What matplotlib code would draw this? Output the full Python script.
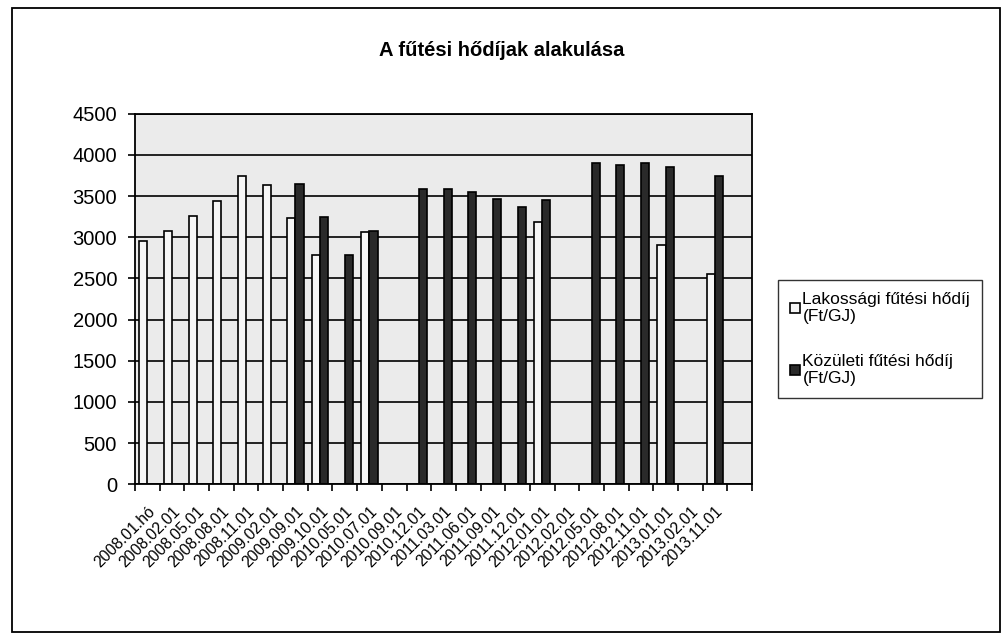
# fűtési hődíjak - recreated bar chart
import numpy as np
import matplotlib.pyplot as plt
from matplotlib.patches import Rectangle

plt.rcParams['font.family'] = ['Liberation Sans', 'DejaVu Sans']

# category labels (last slot has no label in the original)
labels = ['2008.01.hó', '2008.02.01', '2008.05.01', '2008.08.01', '2008.11.01',
          '2009.02.01', '2009.09.01', '2009.10.01', '2010.05.01', '2010.07.01',
          '2010.09.01', '2010.12.01', '2011.03.01', '2011.06.01', '2011.09.01',
          '2011.12.01', '2012.01.01', '2012.02.01', '2012.05.01', '2012.08.01',
          '2012.11.01', '2013.01.01', '2013.02.01', '2013.11.01', '']

nan = np.nan
# Lakossági fűtési hődíj (Ft/GJ)
lakossagi = [2960, 3080, 3260, 3440, 3750, 3630, 3240, 2780, nan, 3060,
             nan, nan, nan, nan, nan, nan, 3190, nan, nan, nan,
             nan, 2900, nan, 2550, nan]
# Közületi fűtési hődíj (Ft/GJ)
kozuleti = [nan, nan, nan, nan, nan, nan, 3650, 3250, 2790, 3080,
            nan, 3590, 3590, 3550, 3460, 3370, 3450, nan, 3900, 3880,
            3900, 3850, nan, 3750, nan]

x = np.arange(len(labels))

fig = plt.figure(figsize=(10.08, 6.43), dpi=100)
ax = fig.add_axes([0.134, 0.247, 0.612, 0.576])

# outer frame of the chart
fig.patches.append(Rectangle((0.012, 0.017), 0.98, 0.971, transform=fig.transFigure,
                             fill=False, edgecolor='black', linewidth=1.3))

ax.set_facecolor('#ebebeb')
ax.set_axisbelow(True)
ax.yaxis.grid(True, color='black', linewidth=1.2)

w = 0.33
ax.bar(x - 0.165, lakossagi, width=w, color='#f6f6f6', edgecolor='black', linewidth=1.2,
       label='Lakossági fűtési hődíj\n(Ft/GJ)')
ax.bar(x + 0.165, kozuleti, width=w, color='#2a2a2a', edgecolor='black', linewidth=1.2,
       label='Közületi fűtési hődíj\n(Ft/GJ)')

ax.set_xlim(-0.5, len(labels) - 0.5)
ax.set_ylim(0, 4500)
ax.set_yticks(np.arange(0, 4501, 500))
ax.tick_params(axis='y', labelsize=14.5, length=5, width=1.2, direction='out', pad=8)

ax.set_xticks(x)
ax.set_xticklabels(labels, rotation=45, ha='right', rotation_mode='anchor', fontsize=11.3)
ax.tick_params(axis='x', which='major', length=0, pad=14)
ax.set_xticks(np.arange(len(labels) + 1) - 0.5, minor=True)
ax.tick_params(axis='x', which='minor', length=5, width=1.2, direction='out')

for s in ax.spines.values():
    s.set_linewidth(1.3)

fig.text(0.498, 0.922, 'A fűtési hődíjak alakulása', ha='center', va='center',
         fontsize=14.5, fontweight='bold')

leg = fig.legend(loc='upper left', bbox_to_anchor=(0.772, 0.565), frameon=True,
                 fancybox=False, edgecolor='black', fontsize=12.5, handlelength=0.55,
                 handleheight=0.55, handletextpad=0.15, labelspacing=1.7, borderpad=0.7,
                 borderaxespad=0)
leg.get_frame().set_linewidth(1.0)

fig.savefig('out.png', dpi=100)
